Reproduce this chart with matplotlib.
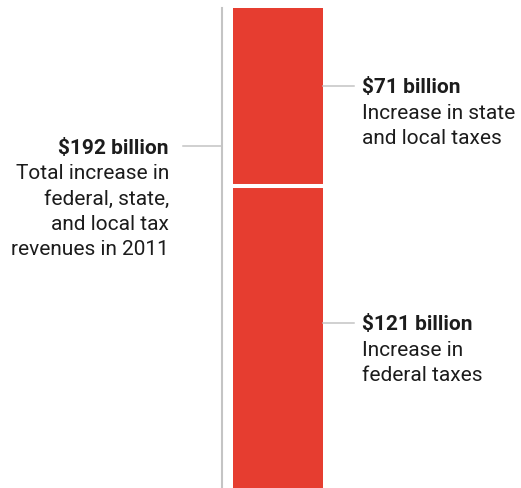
import matplotlib
matplotlib.use('Agg')
import matplotlib.pyplot as plt

plt.rcParams['font.family'] = ['Roboto', 'DejaVu Sans']

RED = '#e63d30'
GRAY = '#c4c4c4'
INK = '#1c1c1c'

# data (billions of dollars)
parts = ['Increase in federal taxes', 'Increase in state and local taxes']
values = [121, 71]
total = sum(values)

heads = ['$121 billion', '$71 billion']
bodies = [['Increase in', 'federal taxes'], ['Increase in state', 'and local taxes']]
total_head = f'${total} billion'
total_body = ['Total increase in', 'federal, state,', 'and local tax', 'revenues in 2011']

W, H = 521, 489
fig = plt.figure(figsize=(W / 100, H / 100), dpi=100)

def fx(px):
    return px / W

def fy(py):
    return 1 - py / H

# bar axes: bar spans from bottom of figure to y=9px
ax = fig.add_axes([fx(233), 0, fx(323) - fx(233), fy(9)])
bottom = 0
for v in values:
    ax.bar(0, v, bottom=bottom, width=1, color=RED, linewidth=0)
    bottom += v
# white separator between segments
ax.axhline(values[0], color='white', linewidth=2.9)
ax.set_xlim(-0.5, 0.5)
ax.set_ylim(0, total)
for s in ['top', 'right', 'bottom']:
    ax.spines[s].set_visible(False)
ax.spines['left'].set_position(('outward', 7.6))
ax.spines['left'].set_color(GRAY)
ax.spines['left'].set_linewidth(1.5)
ax.set_xticks([]); ax.set_yticks([])
ax.patch.set_visible(False)

FS = 15
STEP = 25.5

def label(x, y_head, head, body, ha, line_x):
    fig.text(fx(x), fy(y_head), head, ha=ha, va='baseline', fontsize=FS,
             fontweight='bold', color=INK)
    for i, line in enumerate(body):
        fig.text(fx(x), fy(y_head + STEP * (i + 1)), line, ha=ha, va='baseline',
                 fontsize=FS, color=INK)
    ly = fy(y_head - 6.5)
    fig.add_artist(plt.Line2D([fx(line_x[0]), fx(line_x[1])], [ly, ly],
                              color=GRAY, linewidth=1.1))

label(169, 153.5, total_head, total_body, 'right', (183, 222))
label(362, 93.5, heads[1], bodies[1], 'left', (323, 354))
label(362, 330.5, heads[0], bodies[0], 'left', (323, 354))

fig.savefig('out.png', dpi=100)
